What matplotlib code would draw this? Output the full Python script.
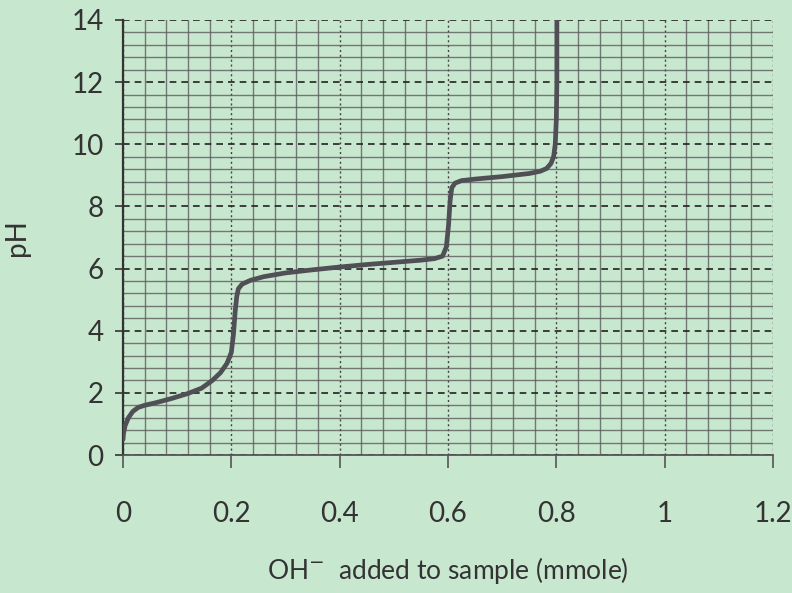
import numpy as np
import matplotlib as mpl
mpl.use('Agg')
import matplotlib.pyplot as plt
from matplotlib.ticker import MultipleLocator

# titration curve
oh_added = [0, 0.001, 0.004, 0.01, 0.018, 0.028, 0.04, 0.06, 0.09, 0.12,
            0.145, 0.165, 0.18, 0.192, 0.2, 0.204, 0.207, 0.21, 0.213, 0.22,
            0.235, 0.26, 0.3, 0.35, 0.4, 0.45, 0.5, 0.55, 0.575, 0.59,
            0.597, 0.601, 0.604, 0.607, 0.613, 0.625, 0.65, 0.7, 0.75, 0.77,
            0.782, 0.79, 0.795, 0.798, 0.8, 0.801, 0.801]
ph = [0.5, 0.7, 0.95, 1.2, 1.4, 1.53, 1.6, 1.68, 1.82, 1.98,
      2.15, 2.4, 2.65, 2.95, 3.3, 3.9, 4.6, 5.1, 5.35, 5.5,
      5.62, 5.74, 5.86, 5.96, 6.05, 6.13, 6.2, 6.27, 6.32, 6.4,
      6.7, 7.4, 8.2, 8.6, 8.75, 8.83, 8.88, 8.96, 9.06, 9.13,
      9.22, 9.38, 9.6, 10.0, 10.8, 12.0, 14.0]

x_ticks = [0, 0.2, 0.4, 0.6, 0.8, 1.0, 1.2]
x_labels = ['0', '0.2', '0.4', '0.6', '0.8', '1', '1.2']
y_ticks = [0, 2, 4, 6, 8, 10, 12, 14]

bg = '#c8e7cf'
plt.rcParams['font.family'] = ['Lato', 'DejaVu Sans']

fig = plt.figure(figsize=(7.92, 5.93), dpi=100, facecolor=bg)
ax = fig.add_axes([0.1553, 0.2327, 0.8207, 0.7336])
ax.set_facecolor(bg)

ax.set_xlim(0, 1.2)
ax.set_ylim(0, 14)
ax.set_xticks(x_ticks)
ax.set_xticklabels(x_labels)
ax.set_yticks(y_ticks)
ax.xaxis.set_minor_locator(MultipleLocator(0.04))
ax.yaxis.set_minor_locator(MultipleLocator(0.4))

# graph-paper grid
ax.grid(which='minor', color='#5c5c5c', lw=1.0, ls='-', alpha=0.8)
ax.yaxis.grid(which='major', color='#222222', lw=1.2, ls=(0, (4, 3)))
ax.xaxis.grid(which='major', color='#444444', lw=1.0, ls=(0, (1.5, 2)))
ax.set_axisbelow(True)

ax.plot(oh_added, ph, color='#4f4f55', lw=3.4, solid_capstyle='round',
        solid_joinstyle='round', zorder=5)

for s in ['top', 'right']:
    ax.spines[s].set_visible(False)
ax.spines['left'].set_color('#333333')
ax.spines['left'].set_linewidth(1.6)
ax.spines['bottom'].set_color('#555555')
ax.spines['bottom'].set_linewidth(1.3)

ax.tick_params(axis='both', which='minor', length=0)
ax.tick_params(axis='x', which='major', length=9, width=1.2, color='#555555',
               pad=24, labelsize=20, labelcolor='#333333')
ax.tick_params(axis='y', which='major', length=6, width=1.2, color='#333333',
               pad=8, labelsize=20, labelcolor='#333333')

ax.set_xlabel(r'OH$^{-}$  added to sample (mmole)', fontsize=19,
              color='#333333', labelpad=20)
ax.set_ylabel('pH', fontsize=20, color='#333333', labelpad=30)

fig.savefig('out.png', dpi=100, facecolor=bg)
